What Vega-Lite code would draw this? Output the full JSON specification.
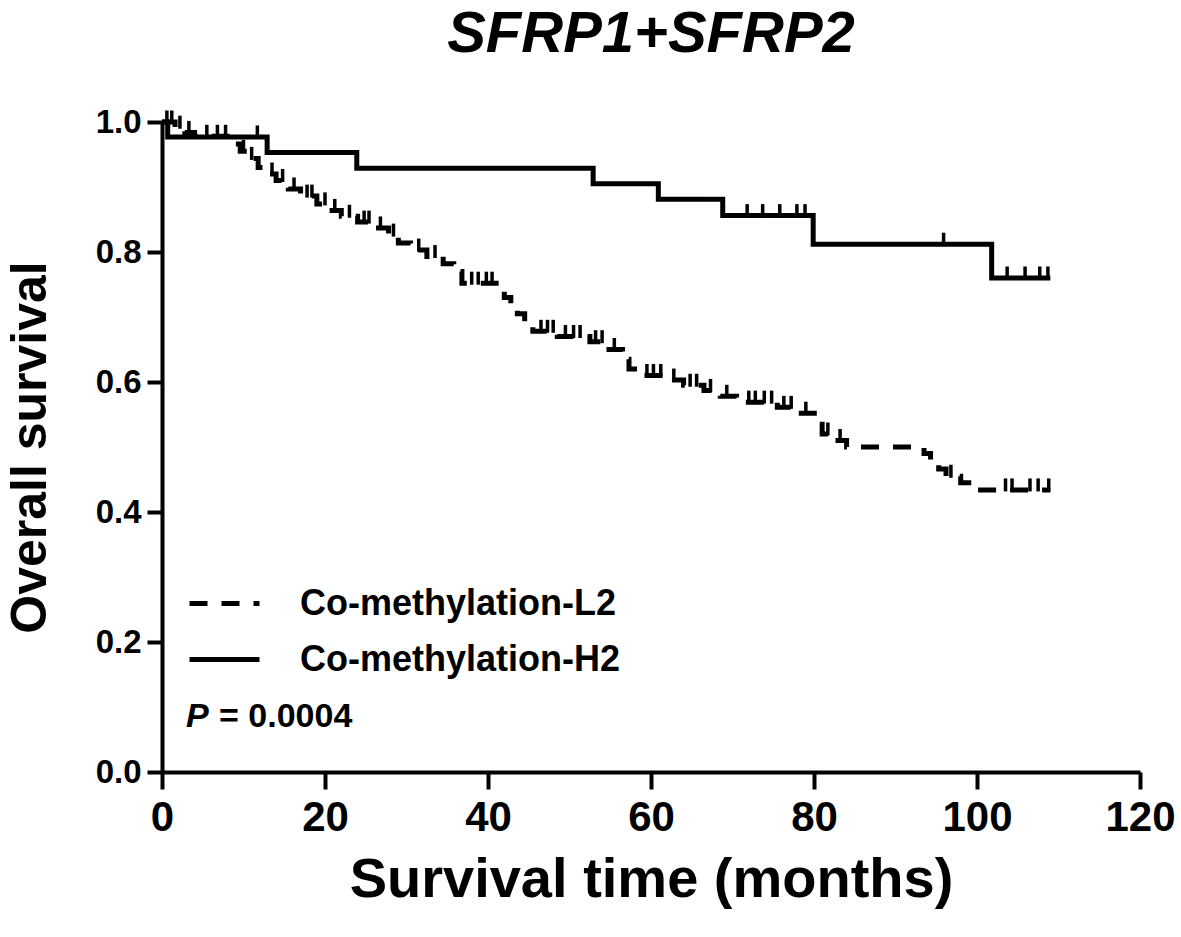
{
  "$schema": "https://vega.github.io/schema/vega-lite/v6.json",
  "width": 978,
  "height": 650,
  "autosize": {"type": "none"},
  "padding": {"left": 162, "top": 122, "right": 41, "bottom": 165},
  "background": "white",
  "title": {"text": "SFRP1+SFRP2", "fontSize": 58, "fontStyle": "italic", "fontWeight": "bold", "font": "Liberation Sans", "color": "black", "anchor": "middle", "offset": 42},
  "datasets": {
    "curves": [
      {"group": "Co-methylation-L2", "t": 0, "s": 1.0},
      {"group": "Co-methylation-L2", "t": 1.6, "s": 0.992},
      {"group": "Co-methylation-L2", "t": 2.8, "s": 0.984},
      {"group": "Co-methylation-L2", "t": 4.0, "s": 0.978},
      {"group": "Co-methylation-L2", "t": 8.8, "s": 0.966},
      {"group": "Co-methylation-L2", "t": 9.6, "s": 0.955},
      {"group": "Co-methylation-L2", "t": 10.6, "s": 0.944},
      {"group": "Co-methylation-L2", "t": 11.8, "s": 0.93},
      {"group": "Co-methylation-L2", "t": 12.9, "s": 0.92},
      {"group": "Co-methylation-L2", "t": 14.0, "s": 0.91},
      {"group": "Co-methylation-L2", "t": 15.5, "s": 0.897},
      {"group": "Co-methylation-L2", "t": 17.0, "s": 0.886},
      {"group": "Co-methylation-L2", "t": 19.0, "s": 0.874},
      {"group": "Co-methylation-L2", "t": 20.5, "s": 0.864},
      {"group": "Co-methylation-L2", "t": 22.0, "s": 0.855},
      {"group": "Co-methylation-L2", "t": 24.0, "s": 0.846},
      {"group": "Co-methylation-L2", "t": 26.0, "s": 0.837},
      {"group": "Co-methylation-L2", "t": 27.8, "s": 0.826},
      {"group": "Co-methylation-L2", "t": 29.0, "s": 0.814},
      {"group": "Co-methylation-L2", "t": 30.5, "s": 0.803},
      {"group": "Co-methylation-L2", "t": 32.5, "s": 0.793},
      {"group": "Co-methylation-L2", "t": 34.5, "s": 0.782},
      {"group": "Co-methylation-L2", "t": 35.8, "s": 0.77},
      {"group": "Co-methylation-L2", "t": 36.8, "s": 0.752},
      {"group": "Co-methylation-L2", "t": 41.0, "s": 0.742},
      {"group": "Co-methylation-L2", "t": 42.0, "s": 0.73},
      {"group": "Co-methylation-L2", "t": 42.8, "s": 0.718},
      {"group": "Co-methylation-L2", "t": 43.6, "s": 0.705},
      {"group": "Co-methylation-L2", "t": 44.5, "s": 0.692},
      {"group": "Co-methylation-L2", "t": 45.5, "s": 0.678},
      {"group": "Co-methylation-L2", "t": 48.5, "s": 0.67},
      {"group": "Co-methylation-L2", "t": 52.5, "s": 0.662},
      {"group": "Co-methylation-L2", "t": 54.5, "s": 0.65},
      {"group": "Co-methylation-L2", "t": 56.5, "s": 0.635},
      {"group": "Co-methylation-L2", "t": 57.3, "s": 0.62},
      {"group": "Co-methylation-L2", "t": 58.6, "s": 0.61},
      {"group": "Co-methylation-L2", "t": 62.0, "s": 0.603},
      {"group": "Co-methylation-L2", "t": 64.0, "s": 0.595},
      {"group": "Co-methylation-L2", "t": 66.5, "s": 0.587},
      {"group": "Co-methylation-L2", "t": 68.5, "s": 0.578},
      {"group": "Co-methylation-L2", "t": 70.5, "s": 0.569},
      {"group": "Co-methylation-L2", "t": 75.5, "s": 0.561},
      {"group": "Co-methylation-L2", "t": 78.0, "s": 0.552},
      {"group": "Co-methylation-L2", "t": 80.5, "s": 0.535},
      {"group": "Co-methylation-L2", "t": 81.0, "s": 0.52},
      {"group": "Co-methylation-L2", "t": 82.5, "s": 0.51},
      {"group": "Co-methylation-L2", "t": 84.0, "s": 0.5},
      {"group": "Co-methylation-L2", "t": 93.5, "s": 0.49},
      {"group": "Co-methylation-L2", "t": 94.3, "s": 0.478},
      {"group": "Co-methylation-L2", "t": 95.3, "s": 0.466},
      {"group": "Co-methylation-L2", "t": 96.2, "s": 0.455},
      {"group": "Co-methylation-L2", "t": 98.0, "s": 0.445},
      {"group": "Co-methylation-L2", "t": 99.6, "s": 0.434},
      {"group": "Co-methylation-L2", "t": 109.0, "s": 0.434},
      {"group": "Co-methylation-H2", "t": 0, "s": 1.0},
      {"group": "Co-methylation-H2", "t": 0.7, "s": 0.977},
      {"group": "Co-methylation-H2", "t": 12.9, "s": 0.953},
      {"group": "Co-methylation-H2", "t": 23.9, "s": 0.929},
      {"group": "Co-methylation-H2", "t": 52.9, "s": 0.905},
      {"group": "Co-methylation-H2", "t": 60.9, "s": 0.881},
      {"group": "Co-methylation-H2", "t": 68.8, "s": 0.856},
      {"group": "Co-methylation-H2", "t": 79.9, "s": 0.812},
      {"group": "Co-methylation-H2", "t": 101.8, "s": 0.76},
      {"group": "Co-methylation-H2", "t": 109.0, "s": 0.76}
    ],
    "censored": [
      {"group": "Co-methylation-L2", "t": 0.6, "s": 1.0},
      {"group": "Co-methylation-L2", "t": 1.2, "s": 1.0},
      {"group": "Co-methylation-L2", "t": 2.2, "s": 0.992},
      {"group": "Co-methylation-L2", "t": 3.3, "s": 0.984},
      {"group": "Co-methylation-L2", "t": 5.5, "s": 0.978},
      {"group": "Co-methylation-L2", "t": 6.8, "s": 0.978},
      {"group": "Co-methylation-L2", "t": 7.8, "s": 0.978},
      {"group": "Co-methylation-L2", "t": 10.0, "s": 0.955},
      {"group": "Co-methylation-L2", "t": 11.0, "s": 0.944},
      {"group": "Co-methylation-L2", "t": 13.5, "s": 0.92},
      {"group": "Co-methylation-L2", "t": 14.8, "s": 0.91},
      {"group": "Co-methylation-L2", "t": 16.2, "s": 0.897},
      {"group": "Co-methylation-L2", "t": 17.8, "s": 0.886},
      {"group": "Co-methylation-L2", "t": 18.4, "s": 0.886},
      {"group": "Co-methylation-L2", "t": 20.0, "s": 0.874},
      {"group": "Co-methylation-L2", "t": 21.2, "s": 0.864},
      {"group": "Co-methylation-L2", "t": 23.0, "s": 0.855},
      {"group": "Co-methylation-L2", "t": 24.8, "s": 0.846},
      {"group": "Co-methylation-L2", "t": 25.4, "s": 0.846},
      {"group": "Co-methylation-L2", "t": 26.8, "s": 0.837},
      {"group": "Co-methylation-L2", "t": 28.4, "s": 0.826},
      {"group": "Co-methylation-L2", "t": 31.5, "s": 0.803},
      {"group": "Co-methylation-L2", "t": 33.5, "s": 0.793},
      {"group": "Co-methylation-L2", "t": 38.0, "s": 0.752},
      {"group": "Co-methylation-L2", "t": 38.8, "s": 0.752},
      {"group": "Co-methylation-L2", "t": 39.8, "s": 0.752},
      {"group": "Co-methylation-L2", "t": 40.5, "s": 0.752},
      {"group": "Co-methylation-L2", "t": 46.5, "s": 0.678},
      {"group": "Co-methylation-L2", "t": 47.3, "s": 0.678},
      {"group": "Co-methylation-L2", "t": 48.0, "s": 0.678},
      {"group": "Co-methylation-L2", "t": 49.5, "s": 0.67},
      {"group": "Co-methylation-L2", "t": 50.5, "s": 0.67},
      {"group": "Co-methylation-L2", "t": 51.3, "s": 0.67},
      {"group": "Co-methylation-L2", "t": 53.2, "s": 0.662},
      {"group": "Co-methylation-L2", "t": 54.0, "s": 0.662},
      {"group": "Co-methylation-L2", "t": 55.5, "s": 0.65},
      {"group": "Co-methylation-L2", "t": 59.5, "s": 0.61},
      {"group": "Co-methylation-L2", "t": 60.3, "s": 0.61},
      {"group": "Co-methylation-L2", "t": 61.2, "s": 0.61},
      {"group": "Co-methylation-L2", "t": 62.8, "s": 0.603},
      {"group": "Co-methylation-L2", "t": 64.8, "s": 0.595},
      {"group": "Co-methylation-L2", "t": 65.6, "s": 0.595},
      {"group": "Co-methylation-L2", "t": 67.3, "s": 0.587},
      {"group": "Co-methylation-L2", "t": 69.3, "s": 0.578},
      {"group": "Co-methylation-L2", "t": 72.0, "s": 0.569},
      {"group": "Co-methylation-L2", "t": 72.8, "s": 0.569},
      {"group": "Co-methylation-L2", "t": 73.9, "s": 0.569},
      {"group": "Co-methylation-L2", "t": 74.8, "s": 0.569},
      {"group": "Co-methylation-L2", "t": 76.3, "s": 0.561},
      {"group": "Co-methylation-L2", "t": 77.2, "s": 0.561},
      {"group": "Co-methylation-L2", "t": 79.0, "s": 0.552},
      {"group": "Co-methylation-L2", "t": 81.7, "s": 0.52},
      {"group": "Co-methylation-L2", "t": 83.2, "s": 0.51},
      {"group": "Co-methylation-L2", "t": 96.8, "s": 0.455},
      {"group": "Co-methylation-L2", "t": 103.5, "s": 0.434},
      {"group": "Co-methylation-L2", "t": 104.3, "s": 0.434},
      {"group": "Co-methylation-L2", "t": 106.5, "s": 0.434},
      {"group": "Co-methylation-L2", "t": 107.5, "s": 0.434},
      {"group": "Co-methylation-L2", "t": 108.8, "s": 0.434},
      {"group": "Co-methylation-H2", "t": 11.7, "s": 0.977},
      {"group": "Co-methylation-H2", "t": 71.8, "s": 0.856},
      {"group": "Co-methylation-H2", "t": 73.7, "s": 0.856},
      {"group": "Co-methylation-H2", "t": 75.8, "s": 0.856},
      {"group": "Co-methylation-H2", "t": 77.9, "s": 0.856},
      {"group": "Co-methylation-H2", "t": 78.9, "s": 0.856},
      {"group": "Co-methylation-H2", "t": 95.9, "s": 0.812},
      {"group": "Co-methylation-H2", "t": 103.7, "s": 0.76},
      {"group": "Co-methylation-H2", "t": 105.9, "s": 0.76},
      {"group": "Co-methylation-H2", "t": 107.7, "s": 0.76},
      {"group": "Co-methylation-H2", "t": 108.7, "s": 0.76}
    ]
  },
  "layer": [
    {
      "data": {"name": "curves"},
      "mark": {"type": "line", "interpolate": "step-after", "color": "black", "strokeWidth": 5, "strokeCap": "butt", "clip": false},
      "encoding": {
        "x": {"field": "t", "type": "quantitative", "scale": {"domain": [0, 120], "nice": false, "zero": true},
          "axis": {"values": [0, 20, 40, 60, 80, 100, 120], "title": "Survival time (months)", "labelFontSize": 42, "titleFontSize": 56, "tickSize": 17, "labelPadding": 8, "titlePadding": 14, "labelFlush": false}},
        "y": {"field": "s", "type": "quantitative", "scale": {"domain": [0, 1], "nice": false},
          "axis": {"values": [0, 0.2, 0.4, 0.6, 0.8, 1.0], "format": ".1f", "title": "Overall survival", "labelFontSize": 33, "titleFontSize": 50, "tickSize": 15, "labelPadding": 6, "titlePadding": 40}},
        "strokeDash": {"field": "group", "type": "nominal",
          "scale": {"domain": ["Co-methylation-L2", "Co-methylation-H2"], "range": [[18, 14], [1, 0]]},
          "legend": {"title": null, "orient": "none", "legendX": 25, "legendY": 444, "padding": 0, "symbolType": "stroke", "symbolSize": 4900, "symbolStrokeWidth": 5, "symbolStrokeColor": "black", "labelFontSize": 36, "labelFontWeight": "bold", "labelColor": "black", "labelOffset": 38, "rowPadding": -1, "labelLimit": 500}}
      }
    },
    {
      "data": {"name": "censored"},
      "mark": {"type": "tick", "orient": "vertical", "color": "black", "size": 13, "thickness": 3.5, "yOffset": -5, "opacity": 1},
      "encoding": {
        "x": {"field": "t", "type": "quantitative"},
        "y": {"field": "s", "type": "quantitative"}
      }
    },
    {
      "data": {"values": [{}]},
      "mark": {"type": "text", "text": "P", "fontSize": 34, "fontWeight": "bold", "fontStyle": "italic", "align": "left", "baseline": "alphabetic", "color": "black"},
      "encoding": {"x": {"datum": 2.95}, "y": {"datum": 0.069}}
    },
    {
      "data": {"values": [{}]},
      "mark": {"type": "text", "text": "= 0.0004", "fontSize": 34, "fontWeight": "bold", "align": "left", "baseline": "alphabetic", "color": "black"},
      "encoding": {"x": {"datum": 7.0}, "y": {"datum": 0.069}}
    }
  ],
  "config": {
    "font": "Liberation Sans",
    "view": {"stroke": null},
    "axis": {"grid": false, "domainColor": "black", "domainWidth": 4, "tickColor": "black", "tickWidth": 4, "labelColor": "black", "titleColor": "black", "labelFontWeight": "bold", "titleFontWeight": "bold", "labelFont": "Liberation Sans", "titleFont": "Liberation Sans"},
    "legend": {"labelFont": "Liberation Sans"}
  }
}
